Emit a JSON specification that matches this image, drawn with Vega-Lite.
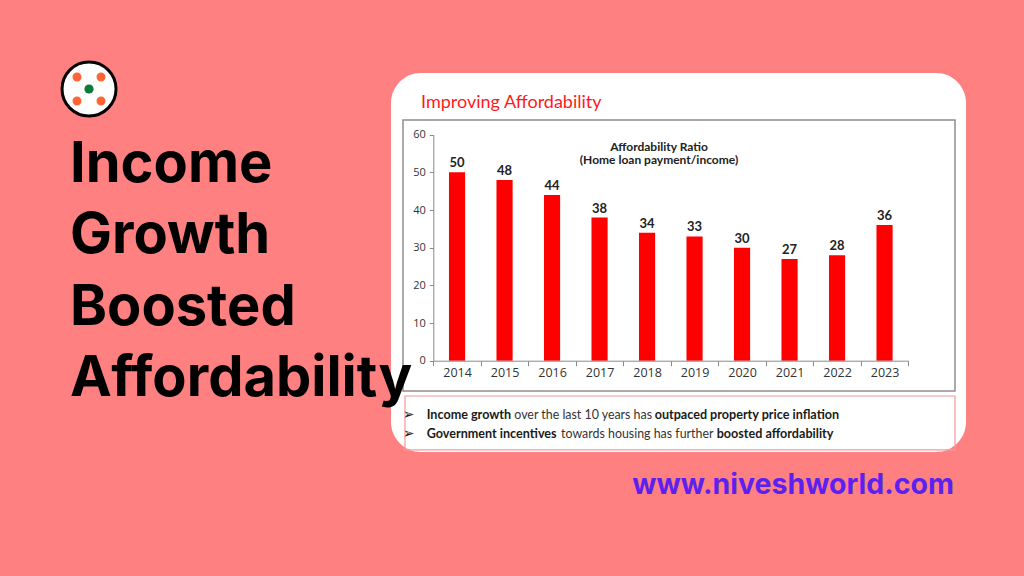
{
  "$schema": "https://vega.github.io/schema/vega-lite/v6.json",
  "width": 575,
  "height": 379,
  "autosize": {"type": "none"},
  "padding": {"left": 391, "top": 73, "right": 58, "bottom": 124},
  "background": "#ff8080",
  "config": {"view": {"fill": "white", "stroke": null, "cornerRadius": 30}},
  "title": {
    "text": ["Income", "Growth", "Boosted", "Affordability"],
    "anchor": "start",
    "frame": "group",
    "orient": "top",
    "offset": 0,
    "dx": -321,
    "dy": 352,
    "baseline": "top",
    "font": "Inter",
    "fontWeight": 700,
    "fontSize": 56,
    "lineHeight": 71.3,
    "color": "#000000"
  },
  "data": {
    "values": [
      {"year": "2014", "ratio": 50},
      {"year": "2015", "ratio": 48},
      {"year": "2016", "ratio": 44},
      {"year": "2017", "ratio": 38},
      {"year": "2018", "ratio": 34},
      {"year": "2019", "ratio": 33},
      {"year": "2020", "ratio": 30},
      {"year": "2021", "ratio": 27},
      {"year": "2022", "ratio": 28},
      {"year": "2023", "ratio": 36}
    ]
  },
  "layer": [
    {
      "data": {"values": [{}]},
      "mark": {"type": "rect", "fill": "transparent", "stroke": "#8f8f8f", "strokeWidth": 1.5},
      "encoding": {
        "x": {"datum": "2014", "type": "ordinal", "bandPosition": -0.638},
        "x2": {"datum": "2023", "bandPosition": 1.983},
        "y": {"datum": 63.9, "type": "quantitative"},
        "y2": {"datum": -8.04}
      }
    },
    {
      "data": {"values": [{}]},
      "mark": {"type": "rect", "fill": "transparent", "stroke": "#f39a9a", "strokeWidth": 1.2},
      "encoding": {
        "x": {"datum": "2014", "type": "ordinal", "bandPosition": -0.596},
        "x2": {"datum": "2023", "bandPosition": 1.983},
        "y": {"datum": -9.37, "type": "quantitative"},
        "y2": {"datum": -23.7}
      }
    },
    {
      "mark": {"type": "bar", "color": "#ff0000", "width": {"band": 0.34}},
      "encoding": {
        "x": {
          "field": "year",
          "type": "ordinal",
          "scale": {"type": "band", "range": [42.3, 517.3], "paddingInner": 0, "paddingOuter": 0},
          "axis": {
            "title": null,
            "orient": "bottom",
            "offset": -91.3,
            "labelAngle": 0,
            "bandPosition": 0.5,
            "tickBand": "extent",
            "domainColor": "#8a8a8a",
            "tickColor": "#8a8a8a",
            "tickSize": 5,
            "labelPadding": 7,
            "labelFontSize": 12.5,
            "labelColor": "#333333",
            "labelFont": "Open Sans",
            "labelAlign": "center",
            "grid": false
          }
        },
        "y": {
          "field": "ratio",
          "type": "quantitative",
          "scale": {"domain": [0, 60], "range": [287.7, 61.7], "nice": false, "zero": true},
          "axis": {
            "title": null,
            "offset": -42.3,
            "values": [0, 10, 20, 30, 40, 50, 60],
            "grid": false,
            "domainColor": "#8a8a8a",
            "tickColor": "#8a8a8a",
            "tickSize": 4,
            "labelPadding": 4,
            "labelFontSize": 11,
            "labelColor": "#333333",
            "labelFont": "Open Sans"
          }
        }
      }
    },
    {
      "mark": {"type": "text", "font": "Lato", "fontWeight": "bold", "fontSize": 13, "baseline": "alphabetic", "dy": -5, "color": "#222222"},
      "encoding": {
        "x": {"field": "year", "type": "ordinal"},
        "y": {"field": "ratio", "type": "quantitative"},
        "text": {"field": "ratio", "type": "quantitative"}
      }
    },
    {
      "data": {"values": [{"t": "Improving Affordability"}]},
      "mark": {"type": "text", "font": "Lato", "fontSize": 18, "align": "left", "baseline": "alphabetic", "color": "#ff1a1a"},
      "encoding": {
        "text": {"field": "t", "type": "nominal"},
        "x": {"datum": "2014", "type": "ordinal", "bandPosition": -0.259},
        "y": {"datum": 67.0, "type": "quantitative"}
      }
    },
    {
      "data": {"values": [{}]},
      "mark": {"type": "text", "text": ["Affordability Ratio", "(Home loan payment/income)"], "font": "Lato", "fontWeight": "bold", "fontSize": 12, "lineHeight": 13.7, "align": "center", "baseline": "middle", "color": "#222222"},
      "encoding": {
        "x": {"datum": "2014", "type": "ordinal", "bandPosition": 4.752},
        "y": {"datum": 56.8, "type": "quantitative"}
      }
    },
    {
      "data": {"values": [{"t": "➢"}]},
      "mark": {"type": "text", "font": "DejaVu Sans", "fontSize": 14, "align": "center", "baseline": "middle", "color": "#222222"},
      "encoding": {
        "text": {"field": "t", "type": "nominal"},
        "x": {"datum": "2014", "type": "ordinal", "bandPosition": -0.52},
        "y": {"datum": -14.4, "type": "quantitative"}
      }
    },
    {
      "data": {"values": [{"t": "➢"}]},
      "mark": {"type": "text", "font": "DejaVu Sans", "fontSize": 14, "align": "center", "baseline": "middle", "color": "#222222"},
      "encoding": {
        "text": {"field": "t", "type": "nominal"},
        "x": {"datum": "2014", "type": "ordinal", "bandPosition": -0.52},
        "y": {"datum": -19.5, "type": "quantitative"}
      }
    },
    {
      "data": {"values": [{"t": "Income growth"}]},
      "mark": {"type": "text", "font": "Lato", "fontWeight": "bold", "fontSize": 12.6, "align": "left", "baseline": "middle", "color": "#1a1a1a"},
      "encoding": {
        "text": {"field": "t", "type": "nominal"},
        "x": {"datum": "2014", "type": "ordinal", "bandPosition": -0.139},
        "y": {"datum": -14.4, "type": "quantitative"}
      }
    },
    {
      "data": {"values": [{"t": "over the last 10 years has"}]},
      "mark": {"type": "text", "font": "Lato", "fontSize": 12.4, "align": "left", "baseline": "middle", "color": "#333333"},
      "encoding": {
        "text": {"field": "t", "type": "nominal"},
        "x": {"datum": "2014", "type": "ordinal", "bandPosition": 1.705},
        "y": {"datum": -14.4, "type": "quantitative"}
      }
    },
    {
      "data": {"values": [{"t": "outpaced property price inflation"}]},
      "mark": {"type": "text", "font": "Lato", "fontWeight": "bold", "fontSize": 12.6, "align": "left", "baseline": "middle", "color": "#1a1a1a"},
      "encoding": {
        "text": {"field": "t", "type": "nominal"},
        "x": {"datum": "2014", "type": "ordinal", "bandPosition": 4.66},
        "y": {"datum": -14.4, "type": "quantitative"}
      }
    },
    {
      "data": {"values": [{"t": "Government incentives"}]},
      "mark": {"type": "text", "font": "Lato", "fontWeight": "bold", "fontSize": 12.6, "align": "left", "baseline": "middle", "color": "#1a1a1a"},
      "encoding": {
        "text": {"field": "t", "type": "nominal"},
        "x": {"datum": "2014", "type": "ordinal", "bandPosition": -0.139},
        "y": {"datum": -19.5, "type": "quantitative"}
      }
    },
    {
      "data": {"values": [{"t": "towards housing has further"}]},
      "mark": {"type": "text", "font": "Lato", "fontSize": 12.4, "align": "left", "baseline": "middle", "color": "#333333"},
      "encoding": {
        "text": {"field": "t", "type": "nominal"},
        "x": {"datum": "2014", "type": "ordinal", "bandPosition": 2.69},
        "y": {"datum": -19.5, "type": "quantitative"}
      }
    },
    {
      "data": {"values": [{"t": "boosted affordability"}]},
      "mark": {"type": "text", "font": "Lato", "fontWeight": "bold", "fontSize": 12.6, "align": "left", "baseline": "middle", "color": "#1a1a1a"},
      "encoding": {
        "text": {"field": "t", "type": "nominal"},
        "x": {"datum": "2014", "type": "ordinal", "bandPosition": 5.966},
        "y": {"datum": -19.5, "type": "quantitative"}
      }
    },
    {
      "data": {"values": [{}]},
      "mark": {"type": "point", "shape": "circle", "size": 2916, "filled": true, "fill": "white", "stroke": "black", "strokeWidth": 3, "opacity": 1},
      "encoding": {
        "x": {"datum": "2014", "type": "ordinal", "bandPosition": -7.248},
        "y": {"datum": 72.13, "type": "quantitative"}
      }
    },
    {
      "data": {"values": [{}]},
      "mark": {"type": "point", "shape": "M -0.825,-0.6 a 0.225,0.225 0 1,0 0.45,0 a 0.225,0.225 0 1,0 -0.45,0 Z M 0.375,-0.6 a 0.225,0.225 0 1,0 0.45,0 a 0.225,0.225 0 1,0 -0.45,0 Z M -0.825,0.6 a 0.225,0.225 0 1,0 0.45,0 a 0.225,0.225 0 1,0 -0.45,0 Z M 0.375,0.6 a 0.225,0.225 0 1,0 0.45,0 a 0.225,0.225 0 1,0 -0.45,0 Z", "size": 1600, "filled": true, "color": "#ff6633", "opacity": 1},
      "encoding": {
        "x": {"datum": "2014", "type": "ordinal", "bandPosition": -7.248},
        "y": {"datum": 72.13, "type": "quantitative"}
      }
    },
    {
      "data": {"values": [{}]},
      "mark": {"type": "point", "shape": "circle", "size": 85, "filled": true, "color": "#0a7a3c", "opacity": 1},
      "encoding": {
        "x": {"datum": "2014", "type": "ordinal", "bandPosition": -7.248},
        "y": {"datum": 72.13, "type": "quantitative"}
      }
    },
    {
      "data": {"values": [{"t": "www.niveshworld.com"}]},
      "mark": {"type": "text", "font": "Inter", "fontWeight": 700, "fontSize": 28.5, "align": "right", "baseline": "alphabetic", "color": "#5b21f0"},
      "encoding": {
        "text": {"field": "t", "type": "nominal"},
        "x": {"datum": "2014", "type": "ordinal", "bandPosition": 10.962},
        "y": {"datum": -35.47, "type": "quantitative"}
      }
    }
  ]
}
